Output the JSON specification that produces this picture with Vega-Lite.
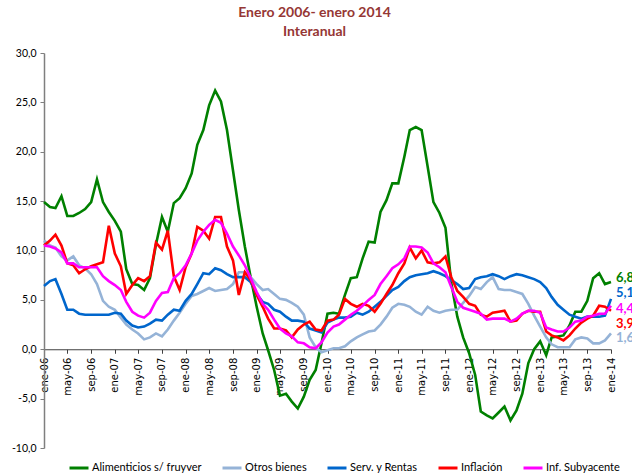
{
  "$schema": "https://vega.github.io/schema/vega-lite/v6.json",
  "width": 567,
  "height": 395,
  "autosize": "none",
  "padding": {"left": 44, "top": 53, "right": 21, "bottom": 27},
  "background": "white",
  "title": {
    "text": "Enero 2006- enero 2014",
    "subtitle": "Interanual",
    "color": "#953735",
    "subtitleColor": "#953735",
    "font": "Lato",
    "subtitleFont": "Lato",
    "fontSize": 14,
    "subtitleFontSize": 14,
    "fontWeight": "bold",
    "subtitleFontWeight": "bold",
    "anchor": "middle",
    "dx": -13,
    "offset": 9,
    "subtitlePadding": 5
  },
  "config": {
    "locale": {"number": {"decimal": ",", "thousands": ".", "grouping": [3], "currency": ["", " €"], "minus": "-"}},
    "view": {"stroke": null}
  },
  "data": {
    "values": [
      {"fecha": "2006-01", "alim": 14.9, "otros": 11.0, "serv": 6.4, "infl": 10.5, "suby": 10.5},
      {"fecha": "2006-02", "alim": 14.4, "otros": 10.5, "serv": 6.9, "infl": 11.0, "suby": 10.4},
      {"fecha": "2006-03", "alim": 14.3, "otros": 10.3, "serv": 7.1, "infl": 11.6, "suby": 10.2},
      {"fecha": "2006-04", "alim": 15.5, "otros": 9.4, "serv": 5.6, "infl": 10.5, "suby": 9.8},
      {"fecha": "2006-05", "alim": 13.5, "otros": 9.0, "serv": 4.0, "infl": 8.7, "suby": 8.7},
      {"fecha": "2006-06", "alim": 13.5, "otros": 9.4, "serv": 4.0, "infl": 8.5, "suby": 8.7},
      {"fecha": "2006-07", "alim": 13.8, "otros": 8.5, "serv": 3.6, "infl": 7.7, "suby": 8.3},
      {"fecha": "2006-08", "alim": 14.2, "otros": 8.2, "serv": 3.5, "infl": 8.1, "suby": 8.3},
      {"fecha": "2006-09", "alim": 14.9, "otros": 7.6, "serv": 3.5, "infl": 8.4, "suby": 8.3},
      {"fecha": "2006-10", "alim": 17.2, "otros": 6.6, "serv": 3.5, "infl": 8.6, "suby": 8.3},
      {"fecha": "2006-11", "alim": 14.9, "otros": 4.9, "serv": 3.5, "infl": 8.8, "suby": 7.4},
      {"fecha": "2006-12", "alim": 13.9, "otros": 4.3, "serv": 3.5, "infl": 12.5, "suby": 6.9},
      {"fecha": "2007-01", "alim": 13.0, "otros": 4.0, "serv": 3.7, "infl": 9.7, "suby": 6.5},
      {"fecha": "2007-02", "alim": 11.9, "otros": 3.2, "serv": 3.6, "infl": 8.4, "suby": 6.0},
      {"fecha": "2007-03", "alim": 8.1, "otros": 2.5, "serv": 2.9, "infl": 5.6, "suby": 4.8},
      {"fecha": "2007-04", "alim": 6.6, "otros": 2.0, "serv": 2.4, "infl": 6.5, "suby": 3.8},
      {"fecha": "2007-05", "alim": 6.5, "otros": 1.6, "serv": 2.2, "infl": 7.2, "suby": 3.4},
      {"fecha": "2007-06", "alim": 6.0, "otros": 1.0, "serv": 2.3, "infl": 6.9, "suby": 3.2},
      {"fecha": "2007-07", "alim": 7.2, "otros": 1.2, "serv": 2.6, "infl": 7.4, "suby": 3.7},
      {"fecha": "2007-08", "alim": 10.6, "otros": 1.6, "serv": 3.0, "infl": 10.8, "suby": 4.9},
      {"fecha": "2007-09", "alim": 13.4, "otros": 1.3, "serv": 2.9, "infl": 10.1, "suby": 5.7},
      {"fecha": "2007-10", "alim": 11.9, "otros": 2.0, "serv": 3.5, "infl": 12.0, "suby": 5.8},
      {"fecha": "2007-11", "alim": 14.8, "otros": 2.9, "serv": 4.0, "infl": 7.4, "suby": 7.2},
      {"fecha": "2007-12", "alim": 15.3, "otros": 3.7, "serv": 3.9, "infl": 6.0, "suby": 7.7},
      {"fecha": "2008-01", "alim": 16.3, "otros": 4.6, "serv": 4.9, "infl": 8.3, "suby": 8.5},
      {"fecha": "2008-02", "alim": 17.8, "otros": 5.4, "serv": 5.6, "infl": 9.7, "suby": 9.7},
      {"fecha": "2008-03", "alim": 20.7, "otros": 5.6, "serv": 6.6, "infl": 12.4, "suby": 11.0},
      {"fecha": "2008-04", "alim": 22.2, "otros": 5.9, "serv": 7.7, "infl": 12.0, "suby": 11.9},
      {"fecha": "2008-05", "alim": 24.7, "otros": 6.2, "serv": 7.6, "infl": 11.2, "suby": 12.6},
      {"fecha": "2008-06", "alim": 26.2, "otros": 5.9, "serv": 8.2, "infl": 13.4, "suby": 13.1},
      {"fecha": "2008-07", "alim": 25.1, "otros": 6.0, "serv": 8.0, "infl": 13.4, "suby": 12.8},
      {"fecha": "2008-08", "alim": 22.2, "otros": 6.1, "serv": 7.6, "infl": 10.4, "suby": 11.7},
      {"fecha": "2008-09", "alim": 18.1, "otros": 6.6, "serv": 7.3, "infl": 9.0, "suby": 10.4},
      {"fecha": "2008-10", "alim": 14.1, "otros": 7.8, "serv": 7.3, "infl": 5.5, "suby": 9.5},
      {"fecha": "2008-11", "alim": 10.4, "otros": 7.8, "serv": 7.3, "infl": 7.8, "suby": 8.5},
      {"fecha": "2008-12", "alim": 7.3, "otros": 7.3, "serv": 6.8, "infl": 7.0, "suby": 7.2},
      {"fecha": "2009-01", "alim": 4.3, "otros": 6.6, "serv": 5.6, "infl": 5.5, "suby": 5.8},
      {"fecha": "2009-02", "alim": 1.6, "otros": 6.0, "serv": 4.8, "infl": 4.3, "suby": 4.6},
      {"fecha": "2009-03", "alim": -0.1, "otros": 6.1, "serv": 4.6, "infl": 3.1, "suby": 4.0},
      {"fecha": "2009-04", "alim": -2.1, "otros": 5.6, "serv": 4.0, "infl": 2.1, "suby": 3.0},
      {"fecha": "2009-05", "alim": -4.7, "otros": 5.1, "serv": 3.8, "infl": 2.1, "suby": 2.1},
      {"fecha": "2009-06", "alim": -4.5, "otros": 5.0, "serv": 3.3, "infl": 1.9, "suby": 1.6},
      {"fecha": "2009-07", "alim": -5.3, "otros": 4.7, "serv": 2.9, "infl": 1.2, "suby": 1.3},
      {"fecha": "2009-08", "alim": -6.0, "otros": 4.3, "serv": 2.9, "infl": 2.0, "suby": 0.7},
      {"fecha": "2009-09", "alim": -4.8, "otros": 3.5, "serv": 2.8, "infl": 2.5, "suby": 0.6},
      {"fecha": "2009-10", "alim": -3.1, "otros": 1.2, "serv": 2.1, "infl": 2.8, "suby": 0.2},
      {"fecha": "2009-11", "alim": -2.1, "otros": 0.2, "serv": 1.9, "infl": 2.0, "suby": 0.1},
      {"fecha": "2009-12", "alim": 0.6, "otros": -0.3, "serv": 1.7, "infl": 1.9, "suby": 0.7},
      {"fecha": "2010-01", "alim": 3.6, "otros": -0.1, "serv": 2.7, "infl": 2.9, "suby": 1.7},
      {"fecha": "2010-02", "alim": 3.7, "otros": 0.1, "serv": 3.0, "infl": 3.0, "suby": 2.3},
      {"fecha": "2010-03", "alim": 3.6, "otros": 0.1, "serv": 3.2, "infl": 3.5, "suby": 2.5},
      {"fecha": "2010-04", "alim": 5.5, "otros": 0.3, "serv": 3.2, "infl": 5.1, "suby": 3.0},
      {"fecha": "2010-05", "alim": 7.2, "otros": 0.8, "serv": 3.3, "infl": 4.6, "suby": 3.5},
      {"fecha": "2010-06", "alim": 7.3, "otros": 1.2, "serv": 3.7, "infl": 4.3, "suby": 3.9},
      {"fecha": "2010-07", "alim": 9.2, "otros": 1.5, "serv": 3.5, "infl": 4.6, "suby": 4.4},
      {"fecha": "2010-08", "alim": 10.9, "otros": 1.8, "serv": 3.8, "infl": 4.4, "suby": 5.0},
      {"fecha": "2010-09", "alim": 10.8, "otros": 1.9, "serv": 4.3, "infl": 3.8, "suby": 5.5},
      {"fecha": "2010-10", "alim": 13.9, "otros": 2.5, "serv": 4.8, "infl": 4.6, "suby": 6.6},
      {"fecha": "2010-11", "alim": 15.1, "otros": 3.3, "serv": 5.4, "infl": 5.6, "suby": 7.4},
      {"fecha": "2010-12", "alim": 16.8, "otros": 4.2, "serv": 6.0, "infl": 6.5, "suby": 8.2},
      {"fecha": "2011-01", "alim": 16.8, "otros": 4.6, "serv": 6.3, "infl": 7.7, "suby": 8.6},
      {"fecha": "2011-02", "alim": 19.5, "otros": 4.5, "serv": 6.9, "infl": 8.7, "suby": 9.2},
      {"fecha": "2011-03", "alim": 22.2, "otros": 4.3, "serv": 7.3, "infl": 10.3, "suby": 10.4},
      {"fecha": "2011-04", "alim": 22.5, "otros": 3.8, "serv": 7.5, "infl": 9.2, "suby": 10.4},
      {"fecha": "2011-05", "alim": 22.2, "otros": 3.5, "serv": 7.6, "infl": 10.0, "suby": 10.3},
      {"fecha": "2011-06", "alim": 18.5, "otros": 4.3, "serv": 7.7, "infl": 8.8, "suby": 9.8},
      {"fecha": "2011-07", "alim": 14.9, "otros": 3.9, "serv": 7.9, "infl": 8.7, "suby": 8.7},
      {"fecha": "2011-08", "alim": 13.8, "otros": 3.7, "serv": 7.7, "infl": 8.8, "suby": 8.3},
      {"fecha": "2011-09", "alim": 12.3, "otros": 3.9, "serv": 7.4, "infl": 9.4, "suby": 7.8},
      {"fecha": "2011-10", "alim": 6.7, "otros": 4.0, "serv": 7.0, "infl": 7.3, "suby": 6.3},
      {"fecha": "2011-11", "alim": 3.3, "otros": 4.0, "serv": 6.6, "infl": 5.9, "suby": 4.8},
      {"fecha": "2011-12", "alim": 1.2, "otros": 4.7, "serv": 6.1, "infl": 5.3, "suby": 4.2},
      {"fecha": "2012-01", "alim": -0.4, "otros": 5.4, "serv": 6.2, "infl": 4.6, "suby": 4.0},
      {"fecha": "2012-02", "alim": -2.6, "otros": 6.3, "serv": 7.1, "infl": 4.4, "suby": 3.8},
      {"fecha": "2012-03", "alim": -6.3, "otros": 6.1, "serv": 7.3, "infl": 3.5, "suby": 3.6},
      {"fecha": "2012-04", "alim": -6.7, "otros": 6.8, "serv": 7.4, "infl": 3.3, "suby": 3.0},
      {"fecha": "2012-05", "alim": -7.0, "otros": 7.3, "serv": 7.6, "infl": 3.7, "suby": 3.1},
      {"fecha": "2012-06", "alim": -6.4, "otros": 6.1, "serv": 7.4, "infl": 3.8, "suby": 3.1},
      {"fecha": "2012-07", "alim": -5.8, "otros": 6.0, "serv": 7.1, "infl": 3.9, "suby": 3.1},
      {"fecha": "2012-08", "alim": -7.2, "otros": 6.0, "serv": 7.4, "infl": 2.8, "suby": 2.8},
      {"fecha": "2012-09", "alim": -6.2, "otros": 5.8, "serv": 7.6, "infl": 2.9, "suby": 3.1},
      {"fecha": "2012-10", "alim": -4.5, "otros": 5.6, "serv": 7.5, "infl": 3.6, "suby": 3.6},
      {"fecha": "2012-11", "alim": -1.4, "otros": 4.6, "serv": 7.3, "infl": 3.9, "suby": 3.9},
      {"fecha": "2012-12", "alim": 0.0, "otros": 3.4, "serv": 7.1, "infl": 3.8, "suby": 3.9},
      {"fecha": "2013-01", "alim": 0.8, "otros": 2.3, "serv": 6.8, "infl": 3.8, "suby": 3.7},
      {"fecha": "2013-02", "alim": -0.6, "otros": 1.2, "serv": 6.2, "infl": 1.8, "suby": 2.2},
      {"fecha": "2013-03", "alim": 1.2, "otros": 0.5, "serv": 5.3, "infl": 1.4, "suby": 2.0},
      {"fecha": "2013-04", "alim": 1.3, "otros": 0.2, "serv": 4.5, "infl": 1.2, "suby": 1.8},
      {"fecha": "2013-05", "alim": 1.4, "otros": 0.2, "serv": 4.0, "infl": 0.9, "suby": 1.8},
      {"fecha": "2013-06", "alim": 2.4, "otros": 0.2, "serv": 3.5, "infl": 1.4, "suby": 2.2},
      {"fecha": "2013-07", "alim": 3.8, "otros": 1.0, "serv": 3.3, "infl": 2.1, "suby": 2.8},
      {"fecha": "2013-08", "alim": 3.8, "otros": 1.2, "serv": 3.1, "infl": 2.7, "suby": 2.9},
      {"fecha": "2013-09", "alim": 4.9, "otros": 1.1, "serv": 3.3, "infl": 3.1, "suby": 3.3},
      {"fecha": "2013-10", "alim": 7.2, "otros": 0.6, "serv": 3.3, "infl": 3.4, "suby": 3.4},
      {"fecha": "2013-11", "alim": 7.7, "otros": 0.6, "serv": 3.3, "infl": 4.4, "suby": 3.6},
      {"fecha": "2013-12", "alim": 6.6, "otros": 0.9, "serv": 3.4, "infl": 4.3, "suby": 3.6},
      {"fecha": "2014-01", "alim": 6.8, "otros": 1.6, "serv": 5.1, "infl": 3.9, "suby": 4.4}
    ]
  },
  "transform": [{"fold": ["alim", "otros", "serv", "infl", "suby"], "as": ["serie", "valor"]}],
  "encoding": {
    "x": {
      "field": "fecha",
      "type": "temporal",
      "scale": {
        "type": "utc",
        "nice": false,
        "domain": [{"year": 2006, "month": 1, "date": 1, "utc": true}, {"year": 2014, "month": 1, "date": 1, "utc": true}]
      },
      "axis": {
        "title": null,
        "offset": -98.75,
        "tickCount": {"interval": "month", "step": 4},
        "labelExpr": "['ene','feb','mar','abr','may','jun','jul','ago','sep','oct','nov','dic'][utcmonth(datum.value)] + '-' + utcFormat(datum.value, '%y')",
        "labelAngle": 270,
        "labelAlign": "right",
        "labelBaseline": "middle",
        "labelFont": "DejaVu Sans",
        "labelFontSize": 10,
        "labelColor": "#000000",
        "labelPadding": 4,
        "labelFlush": false,
        "labelOverlap": false,
        "domainColor": "#404040",
        "domainWidth": 1,
        "tickColor": "#404040",
        "tickSize": 4,
        "grid": false
      }
    },
    "y": {
      "field": "valor",
      "type": "quantitative",
      "scale": {"domain": [-10, 30], "nice": false, "zero": false},
      "axis": {
        "title": null,
        "values": [-10, -5, 0, 5, 10, 15, 20, 25, 30],
        "format": ".1f",
        "labelFont": "Lato",
        "labelFontSize": 10.5,
        "labelColor": "#000000",
        "labelPadding": 4,
        "domainColor": "#7f7f7f",
        "domainWidth": 1.5,
        "tickColor": "#7f7f7f",
        "tickSize": 4,
        "grid": false
      }
    }
  },
  "layer": [
    {
      "mark": {"type": "line", "strokeWidth": 2.6},
      "encoding": {
        "color": {
          "field": "serie",
          "type": "nominal",
          "scale": {
            "domain": ["alim", "otros", "serv", "infl", "suby"],
            "range": ["#008000", "#95B3D7", "#0066CC", "#FF0000", "#FF00FF"]
          },
          "legend": {
            "orient": "none",
            "legendX": 24,
            "legendY": 404,
            "direction": "horizontal",
            "title": null,
            "symbolType": "stroke",
            "symbolStrokeWidth": 3,
            "symbolSize": 361,
            "labelFont": "Lato",
            "labelFontSize": 11,
            "labelColor": "#000000",
            "labelOffset": 2,
            "columnPadding": 14,
            "labelExpr": "{'alim': 'Alimenticios s/ fruyver', 'otros': 'Otros bienes', 'serv': 'Serv. y Rentas', 'infl': 'Inflación', 'suby': 'Inf. Subyacente'}[datum.label]"
          }
        }
      }
    },
    {
      "transform": [{"filter": "datum.serie == 'alim' && utcyear(datum.fecha) == 2014"}],
      "mark": {"type": "text", "align": "left", "baseline": "middle", "dx": 5, "dy": -4, "font": "Lato", "fontSize": 13, "fontWeight": "bold", "color": "#008000"},
      "encoding": {"text": {"field": "valor", "type": "quantitative", "format": ".1f"}}
    },
    {
      "transform": [{"filter": "datum.serie == 'serv' && utcyear(datum.fecha) == 2014"}],
      "mark": {"type": "text", "align": "left", "baseline": "middle", "dx": 5, "dy": -6, "font": "Lato", "fontSize": 13, "fontWeight": "bold", "color": "#0066CC"},
      "encoding": {"text": {"field": "valor", "type": "quantitative", "format": ".1f"}}
    },
    {
      "transform": [{"filter": "datum.serie == 'suby' && utcyear(datum.fecha) == 2014"}],
      "mark": {"type": "text", "align": "left", "baseline": "middle", "dx": 5, "dy": 3, "font": "Lato", "fontSize": 13, "fontWeight": "bold", "color": "#FF00FF"},
      "encoding": {"text": {"field": "valor", "type": "quantitative", "format": ".1f"}}
    },
    {
      "transform": [{"filter": "datum.serie == 'infl' && utcyear(datum.fecha) == 2014"}],
      "mark": {"type": "text", "align": "left", "baseline": "middle", "dx": 5, "dy": 13, "font": "Lato", "fontSize": 13, "fontWeight": "bold", "color": "#FF0000"},
      "encoding": {"text": {"field": "valor", "type": "quantitative", "format": ".1f"}}
    },
    {
      "transform": [{"filter": "datum.serie == 'otros' && utcyear(datum.fecha) == 2014"}],
      "mark": {"type": "text", "align": "left", "baseline": "middle", "dx": 5, "dy": 5, "font": "Lato", "fontSize": 13, "fontWeight": "bold", "color": "#95B3D7"},
      "encoding": {"text": {"field": "valor", "type": "quantitative", "format": ".1f"}}
    }
  ]
}
